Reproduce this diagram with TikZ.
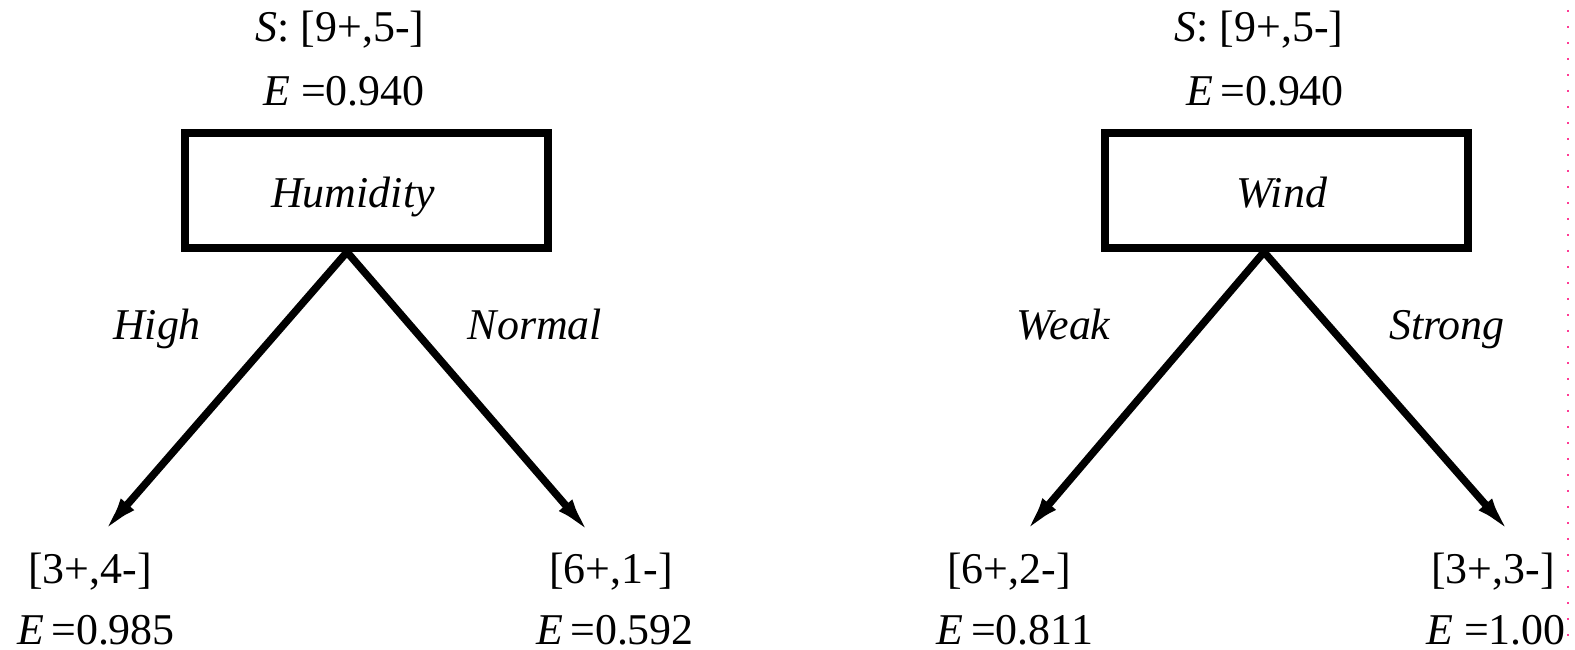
\documentclass[tikz,border=0pt]{standalone}
\usepackage{fontspec}
\setmainfont{Liberation Serif}
\usetikzlibrary{arrows.meta}

\definecolor{marginpink}{RGB}{255,60,150}

\tikzset{
    attribute/.style = {draw, line width = 0.08cm, minimum width = 3.63cm,
        minimum height = 1.15cm, inner sep = 0pt},
    branch/.style = {-{Latex[length = 0.42cm, width = 0.17cm]}, line width = 0.075cm},
}

\begin{document}
\begin{tikzpicture}[font = \fontsize{12.5}{15}\selectfont]

        % Page size.
        \useasboundingbox (0.0, 0.0) rectangle (15.75, -6.5);

        % Positions for the arrow tips.
        \coordinate (HL) at (1.00, -5.36);
        \coordinate (HR) at (5.93, -5.37);
        \coordinate (WL) at (10.22, -5.36);
        \coordinate (WR) at (15.13, -5.36);

        % The split on Humidity.
        \node (HumS) at (3.40, -0.42) [anchor = base] {\textit{S}: [9+,5-]};
        \node (HumE) at (3.44, -1.06) [anchor = base] {\textit{E} =0.940};
        \node (Hum) at (3.66, -1.905) [attribute] {};
        \node (HumName) at (3.53, -2.08) [anchor = base] {\textit{Humidity}};

        \draw [branch] ([xshift = -0.19cm]Hum.south) to (HL);
        \draw [branch] ([xshift = -0.19cm]Hum.south) to (HR);

        \node (High) at (1.57, -3.40) [anchor = base] {\textit{High}};
        \node (Normal) at (5.35, -3.40) [anchor = base] {\textit{Normal}};

        \node (HighS) at (0.90, -5.84) [anchor = base] {[3+,4-]};
        \node (HighE) at (0.96, -6.45) [anchor = base] {\textit{E}\,=0.985};
        \node (NormalS) at (6.11, -5.84) [anchor = base] {[6+,1-]};
        \node (NormalE) at (6.15, -6.45) [anchor = base] {\textit{E}\,=0.592};

        % The split on Wind.
        \node (WindS) at (12.59, -0.42) [anchor = base] {\textit{S}: [9+,5-]};
        \node (WindE) at (12.65, -1.06) [anchor = base] {\textit{E}\,=0.940};
        \node (Wind) at (12.865, -1.905) [attribute] {};
        \node (WindName) at (12.82, -2.08) [anchor = base] {\textit{Wind}};

        \draw [branch] ([xshift = -0.225cm]Wind.south) to (WL);
        \draw [branch] ([xshift = -0.225cm]Wind.south) to (WR);

        \node (Weak) at (10.64, -3.40) [anchor = base] {\textit{Weak}};
        \node (Strong) at (14.47, -3.40) [anchor = base] {\textit{Strong}};

        \node (WeakS) at (10.09, -5.84) [anchor = base] {[6+,2-]};
        \node (WeakE) at (10.15, -6.45) [anchor = base] {\textit{E}\,=0.811};
        \node (StrongS) at (14.93, -5.84) [anchor = base] {[3+,3-]};
        \node (StrongE) at (14.96, -6.45) [anchor = base] {\textit{E} =1.00};

        % Dotted margin line on the right.
        \draw [marginpink, line width = 0.025cm, dash pattern = on 0.025cm off 0.135cm,
            dash phase = 0.06cm] (15.68, 0.0) to (15.68, -6.5);
    \end{tikzpicture}
\end{document}
